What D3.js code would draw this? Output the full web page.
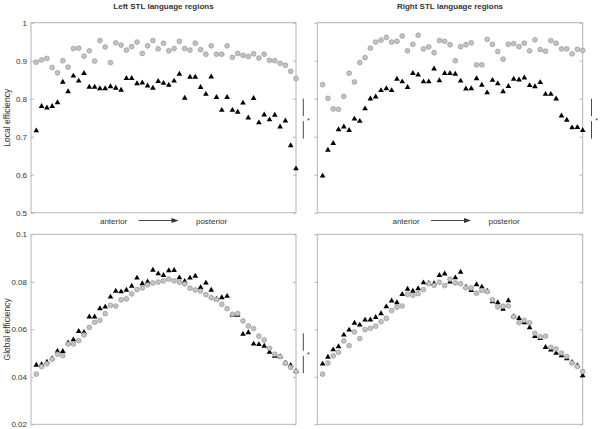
<!DOCTYPE html>
<html>
<head>
<meta charset="utf-8">
<script src="https://cdn.jsdelivr.net/npm/d3@7"></script>
<style>
body { margin: 0; background: #fff; }
svg { font-family: "Liberation Sans", Arial, sans-serif; }
.frame { fill: none; stroke: #b4b4b4; stroke-width: 1; }
.tick line { stroke: #b4b4b4; }
.tick text { fill: #333; font-size: 8px; }
.domain { display: none; }
</style>
</head>
<body>
<svg id="chart" width="600" height="429"></svg>
<script>
// 50 regions along the STL, anterior -> posterior
const leftLocalCircle = [
    0.896, 0.902, 0.906, 0.882, 0.868, 0.900, 0.883, 0.932, 0.933, 0.912,
    0.926, 0.899, 0.953, 0.936, 0.895, 0.947, 0.941, 0.928, 0.937, 0.949,
    0.919, 0.939, 0.953, 0.931, 0.946, 0.926, 0.932, 0.951, 0.932, 0.928,
    0.946, 0.929, 0.917, 0.939, 0.917, 0.917, 0.939, 0.909, 0.919, 0.914,
    0.911, 0.918, 0.907, 0.917, 0.901, 0.900, 0.893, 0.888, 0.872, 0.853];
const leftLocalTriangle = [
    0.715, 0.779, 0.775, 0.779, 0.789, 0.843, 0.818, 0.859, 0.846, 0.866,
    0.830, 0.830, 0.826, 0.826, 0.831, 0.827, 0.822, 0.853, 0.853, 0.839,
    0.841, 0.833, 0.827, 0.845, 0.840, 0.835, 0.846, 0.864, 0.801, 0.856,
    0.856, 0.829, 0.811, 0.857, 0.803, 0.769, 0.803, 0.769, 0.764, 0.788,
    0.749, 0.800, 0.736, 0.757, 0.744, 0.756, 0.725, 0.741, 0.676, 0.615];
const rightLocalCircle = [
    0.837, 0.801, 0.773, 0.772, 0.806, 0.867, 0.844, 0.895, 0.908, 0.933,
    0.949, 0.954, 0.961, 0.949, 0.951, 0.965, 0.926, 0.943, 0.967, 0.931,
    0.936, 0.921, 0.953, 0.951, 0.942, 0.900, 0.937, 0.942, 0.947, 0.889,
    0.889, 0.956, 0.943, 0.924, 0.904, 0.943, 0.945, 0.937, 0.946, 0.926,
    0.955, 0.929, 0.925, 0.953, 0.946, 0.931, 0.931, 0.918, 0.930, 0.927];
const rightLocalTriangle = [
    0.596, 0.664, 0.682, 0.718, 0.725, 0.716, 0.746, 0.740, 0.773, 0.799,
    0.804, 0.821, 0.826, 0.821, 0.851, 0.844, 0.829, 0.866, 0.862, 0.844,
    0.844, 0.878, 0.847, 0.866, 0.866, 0.864, 0.846, 0.825, 0.826, 0.852,
    0.835, 0.815, 0.848, 0.839, 0.818, 0.832, 0.851, 0.849, 0.854, 0.834,
    0.831, 0.842, 0.811, 0.811, 0.799, 0.754, 0.743, 0.723, 0.724, 0.716];
const leftGlobalCircle = [
    0.0411, 0.0443, 0.0455, 0.0474, 0.0495, 0.0489, 0.0538, 0.0538, 0.0552, 0.0576,
    0.0608, 0.0629, 0.0638, 0.0666, 0.0701, 0.0698, 0.0724, 0.0728, 0.0749, 0.0767,
    0.0774, 0.0787, 0.0795, 0.0799, 0.0804, 0.0811, 0.0804, 0.0798, 0.0791, 0.0773,
    0.0766, 0.0761, 0.0746, 0.0733, 0.0726, 0.0705, 0.0687, 0.0663, 0.0666, 0.0635,
    0.0614, 0.0603, 0.0571, 0.0555, 0.0520, 0.0495, 0.0485, 0.0457, 0.0440, 0.0423];
const leftGlobalTriangle = [
    0.0448, 0.0450, 0.0461, 0.0476, 0.0507, 0.0506, 0.0542, 0.0555, 0.0590, 0.0586,
    0.0651, 0.0651, 0.0686, 0.0693, 0.0735, 0.0760, 0.0757, 0.0764, 0.0781, 0.0815,
    0.0791, 0.0799, 0.0848, 0.0833, 0.0826, 0.0846, 0.0847, 0.0816, 0.0801, 0.0815,
    0.0823, 0.0775, 0.0794, 0.0764, 0.0726, 0.0732, 0.0738, 0.0658, 0.0659, 0.0578,
    0.0585, 0.0537, 0.0535, 0.0528, 0.0503, 0.0486, 0.0484, 0.0457, 0.0447, 0.0422];
const rightGlobalCircle = [
    0.0411, 0.0458, 0.0488, 0.0503, 0.0551, 0.0531, 0.0589, 0.0561, 0.0599, 0.0604,
    0.0613, 0.0632, 0.0646, 0.0679, 0.0693, 0.0698, 0.0747, 0.0743, 0.0750, 0.0767,
    0.0792, 0.0785, 0.0798, 0.0784, 0.0811, 0.0795, 0.0792, 0.0775, 0.0774, 0.0752,
    0.0764, 0.0759, 0.0724, 0.0694, 0.0697, 0.0698, 0.0653, 0.0628, 0.0638, 0.0627,
    0.0583, 0.0569, 0.0571, 0.0524, 0.0517, 0.0500, 0.0485, 0.0458, 0.0443, 0.0422];
const rightGlobalTriangle = [
    0.0453, 0.0482, 0.0513, 0.0526, 0.0575, 0.0596, 0.0625, 0.0617, 0.0638, 0.0639,
    0.0649, 0.0665, 0.0694, 0.0719, 0.0711, 0.0746, 0.0768, 0.0760, 0.0770, 0.0795,
    0.0792, 0.0791, 0.0826, 0.0832, 0.0798, 0.0816, 0.0840, 0.0777, 0.0763, 0.0787,
    0.0777, 0.0760, 0.0715, 0.0711, 0.0684, 0.0720, 0.0653, 0.0645, 0.0627, 0.0606,
    0.0569, 0.0561, 0.0523, 0.0512, 0.0498, 0.0488, 0.0475, 0.0460, 0.0446, 0.0404];

const titles = ["Left STL language regions", "Right STL language regions"];
const localTicks = [0.5, 0.6, 0.7, 0.8, 0.9, 1];
const globalTicks = [0.02, 0.04, 0.06, 0.08, 0.1];
const localBracket = [0.695, 0.8];
const globalBracket = [0.0415, 0.0583];

const svg = d3.select("#chart");

const colX = [[31, 296], [317.3, 582.7]];
const rowY = [[212.7, 22.7], [424.3, 234.3]];
const noteShift = [-3, 3];   // anterior/posterior note offset per column

const panels = [
    {col: 0, row: 0, circ: leftLocalCircle, tri: leftLocalTriangle, domain: [0.5, 1], ticks: localTicks, bracket: localBracket, label: "Local efficiency"},
    {col: 1, row: 0, circ: rightLocalCircle, tri: rightLocalTriangle, domain: [0.5, 1], ticks: localTicks, bracket: localBracket},
    {col: 0, row: 1, circ: leftGlobalCircle, tri: leftGlobalTriangle, domain: [0.02, 0.1], ticks: globalTicks, bracket: globalBracket, label: "Global efficiency"},
    {col: 1, row: 1, circ: rightGlobalCircle, tri: rightGlobalTriangle, domain: [0.02, 0.1], ticks: globalTicks, bracket: null},
];

const tri = d3.symbol().type(d3.symbolTriangle).size(14);

panels.forEach(p => {
    const x = d3.scaleLinear().domain([0, 50]).range(colX[p.col]);
    const y = d3.scaleLinear().domain(p.domain).range(rowY[p.row]);
    const g = svg.append("g");
    const x0 = colX[p.col][0], x1 = colX[p.col][1];

    // left axis: labels only on the left column
    const yAxis = d3.axisLeft(y).tickValues(p.ticks).tickPadding(4)
        .tickSize(p.col === 0 ? -3 : 3)
        .tickFormat(p.col === 0 ? (d => String(d)) : "");
    g.append("g").attr("transform", "translate(" + x0 + ",0)").call(yAxis);
    g.append("g").attr("transform", "translate(" + x1 + ",0)")
        .call(d3.axisRight(y).tickValues(p.ticks).tickSize(-3).tickFormat(""));

    g.append("rect").attr("class", "frame")
        .attr("x", x0).attr("y", rowY[p.row][1])
        .attr("width", x1 - x0).attr("height", rowY[p.row][0] - rowY[p.row][1]);

    g.append("g").selectAll("path").data(p.tri).enter().append("path")
        .attr("d", tri)
        .attr("transform", (d, i) => "translate(" + x(i + 1) + "," + (y(d) - 0.3) + ")")
        .attr("fill", "#000");

    g.append("g").selectAll("circle").data(p.circ).enter().append("circle")
        .attr("cx", (d, i) => x(i + 1))
        .attr("cy", d => y(d))
        .attr("r", 2.4)
        .attr("fill", "#c3c3c3")
        .attr("stroke", "#8a8a8a")
        .attr("stroke-width", 0.6);

    if (p.bracket) {
        const bx = x1 + (p.col === 0 ? 7.3 : 8.8);
        const yLo = y(p.bracket[0]), yHi = y(p.bracket[1]);
        const mid = (yLo + yHi) / 2;
        g.append("line").attr("x1", bx).attr("x2", bx).attr("y1", yHi).attr("y2", mid - 2.5)
            .attr("stroke", "#333").attr("stroke-width", 0.9);
        g.append("line").attr("x1", bx).attr("x2", bx).attr("y1", mid + 2.5).attr("y2", yLo)
            .attr("stroke", "#333").attr("stroke-width", 0.9);
        g.append("text").attr("x", bx + 5).attr("y", mid + 4)
            .attr("text-anchor", "middle").attr("font-size", 7).attr("fill", "#333").text("*");
    }

    if (p.label) {
        g.append("text")
            .attr("transform", "translate(10," + ((rowY[p.row][0] + rowY[p.row][1]) / 2) + ") rotate(-90)")
            .attr("text-anchor", "middle").attr("font-size", 8.5).attr("fill", "#333")
            .text(p.label);
    }

    if (p.row === 0) {
        g.append("text").attr("x", (x0 + x1) / 2).attr("y", 8.5)
            .attr("text-anchor", "middle").attr("font-size", 8).attr("font-weight", "bold")
            .attr("fill", "#333").text(titles[p.col]);

        // anterior -> posterior note under the top row
        const cx = (x0 + x1) / 2 + noteShift[p.col];
        const ty = 223.5;
        g.append("text").attr("x", cx - 47).attr("y", ty).attr("text-anchor", "middle")
            .attr("font-size", 8).attr("fill", "#333").text("anterior");
        g.append("text").attr("x", cx + 51).attr("y", ty).attr("text-anchor", "middle")
            .attr("font-size", 8).attr("fill", "#333").text("posterior");
        g.append("line").attr("x1", cx - 22).attr("x2", cx + 12).attr("y1", ty - 3).attr("y2", ty - 3)
            .attr("stroke", "#333").attr("stroke-width", 0.9);
        g.append("path")
            .attr("d", "M" + (cx + 18) + "," + (ty - 3) + "L" + (cx + 11) + "," + (ty - 5.5) + "L" + (cx + 11) + "," + (ty - 0.5) + "Z")
            .attr("fill", "#333");
    }
});
</script>
</body>
</html>
